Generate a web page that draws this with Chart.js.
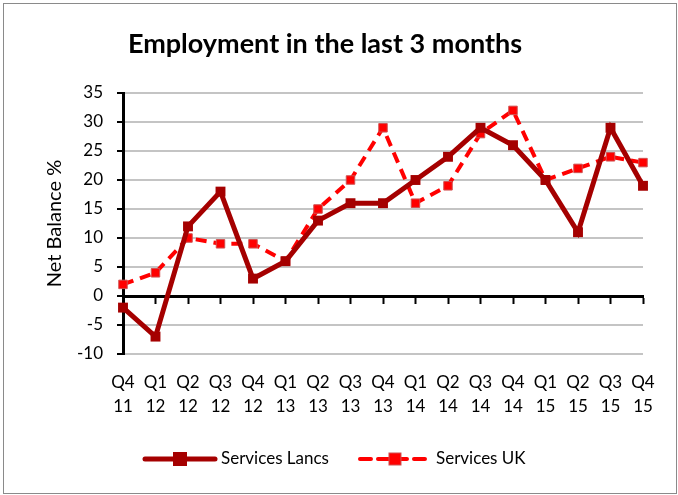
<!DOCTYPE html>
<html>
<head>
<meta charset="utf-8">
<script src="https://cdn.jsdelivr.net/npm/chart.js@4/dist/chart.umd.min.js"></script>
<style>
  html, body { margin: 0; padding: 0; background: #fff; }
  #wrap { position: relative; width: 678px; height: 495px; }
  #frame { position: absolute; left: 3px; top: 3px; width: 672px; height: 489px; border: 1px solid #8a8a8a; pointer-events: none; }
</style>
</head>
<body>
<div id="wrap">
  <canvas id="chart" width="678" height="495"></canvas>
  <div id="frame"></div>
</div>
<script>
const TITLE = 'Employment in the last 3 months';
const QUARTERS = ['Q4', 'Q1', 'Q2', 'Q3', 'Q4', 'Q1', 'Q2', 'Q3', 'Q4', 'Q1', 'Q2', 'Q3', 'Q4', 'Q1', 'Q2', 'Q3', 'Q4'];
const YEARS = ['11', '12', '12', '12', '12', '13', '13', '13', '13', '14', '14', '14', '14', '15', '15', '15', '15'];
const LANCS = [-2, -7, 12, 18, 3, 6, 13, 16, 16, 20, 24, 29, 26, 20, 11, 29, 19];
const UK = [2, 4, 10, 9, 9, 6, 15, 20, 29, 16, 19, 28, 32, 20, 22, 24, 23];

const FONT = 'Lato, "Liberation Sans", sans-serif';
const COLORS = {
  lancs: '#a50000',
  uk: '#ff0000',
  ukMarkerBorder: '#d05050',
  grid: '#c4c4c4',
  axis: '#000000',
};

const labels = QUARTERS.map((q, i) => [q, YEARS[i]]);

// title and legend drawn straight onto the canvas
const decorations = {
  id: 'decorations',
  afterDraw(chart) {
    const ctx = chart.ctx;
    ctx.save();
    ctx.fillStyle = '#000';
    ctx.font = 'bold 27px ' + FONT;
    ctx.textAlign = 'center';
    ctx.textBaseline = 'middle';
    ctx.fillText(TITLE, 325, 44);

    ctx.font = '17px ' + FONT;
    ctx.textAlign = 'left';
    const y = 459;
    let x = 145;
    chart.data.datasets.forEach((ds) => {
      ctx.strokeStyle = ds.borderColor;
      ctx.lineWidth = ds.borderWidth;
      ctx.lineCap = 'round';
      ctx.setLineDash(ds.borderDash || []);
      ctx.beginPath();
      ctx.moveTo(x, y);
      ctx.lineTo(x + 70, y);
      ctx.stroke();
      ctx.setLineDash([]);
      const r = ds.pointRadius;
      ctx.fillStyle = ds.pointBackgroundColor;
      ctx.fillRect(x + 35 - r, y - r, r * 2, r * 2);
      if (ds.pointBorderWidth) {
        ctx.strokeStyle = ds.pointBorderColor;
        ctx.lineWidth = ds.pointBorderWidth;
        ctx.strokeRect(x + 35 - r, y - r, r * 2, r * 2);
      }
      ctx.fillStyle = '#000';
      ctx.fillText(ds.label, x + 76, y);
      x += 76 + ctx.measureText(ds.label).width + 31;
    });
    ctx.restore();
  },
};

new Chart(document.getElementById('chart'), {
  type: 'line',
  data: {
    labels,
    datasets: [
      {
        label: 'Services Lancs',
        data: LANCS,
        borderColor: COLORS.lancs,
        backgroundColor: COLORS.lancs,
        borderWidth: 5,
        pointStyle: 'rect',
        pointRadius: 7,
        pointBackgroundColor: COLORS.lancs,
        pointBorderColor: COLORS.lancs,
        pointBorderWidth: 0,
        tension: 0,
      },
      {
        label: 'Services UK',
        data: UK,
        borderColor: COLORS.uk,
        backgroundColor: COLORS.uk,
        borderWidth: 4,
        borderDash: [11, 7],
        pointStyle: 'rect',
        pointRadius: 6,
        pointBackgroundColor: COLORS.uk,
        pointBorderColor: COLORS.ukMarkerBorder,
        pointBorderWidth: 1,
        tension: 0,
      },
    ],
  },
  options: {
    responsive: false,
    animation: false,
    layout: { padding: { top: 93, left: 43, right: 35, bottom: 71 } },
    plugins: {
      legend: { display: false },
      title: { display: false },
      tooltip: { enabled: false },
    },
    scales: {
      x: {
        offset: false,
        grid: { display: false, drawTicks: false },
        border: { display: false },
        ticks: {
          color: '#000',
          font: { family: FONT, size: 17, lineHeight: 1.4 },
          padding: 17,
          maxRotation: 0,
          autoSkip: false,
        },
        afterFit: (scale) => { scale.height = 70; },
      },
      zero: {
        axis: 'x',
        type: 'category',
        position: { y: 0 },
        offset: false,
        grid: { drawOnChartArea: false, drawTicks: true, tickLength: 6, tickColor: COLORS.axis, tickWidth: 2 },
        border: { display: true, color: COLORS.axis, width: 3 },
        ticks: { display: false, autoSkip: false },
      },
      y: {
        min: -10,
        max: 35,
        grid: { color: COLORS.grid, lineWidth: 2, tickColor: COLORS.axis, tickWidth: 2, tickLength: 6 },
        border: { display: true, color: COLORS.axis, width: 3 },
        ticks: {
          stepSize: 5,
          color: '#000',
          font: { family: FONT, size: 17 },
          padding: 14,
        },
        title: {
          display: true,
          text: 'Net Balance %',
          color: '#000',
          font: { family: FONT, size: 20 },
          padding: { top: 0, bottom: 0 },
        },
        afterFit: (scale) => { scale.width = 80; },
      },
    },
  },
  plugins: [decorations],
});
</script>
</body>
</html>
